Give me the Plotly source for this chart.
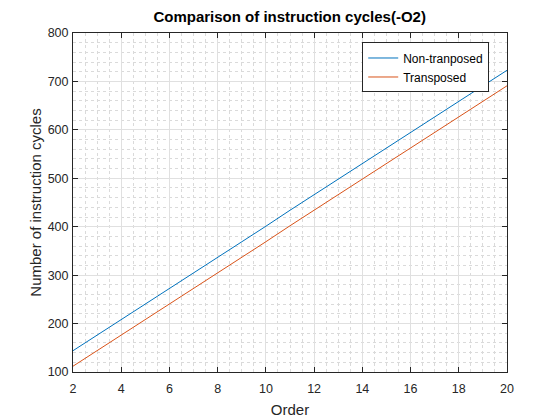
import plotly.graph_objects as go

# order of the filter and measured cycle counts (-O2)
order = list(range(2, 21))
non_transposed = [144, 176, 208, 240, 273, 305, 337, 369, 401, 434,
                  466, 498, 530, 562, 595, 627, 659, 691, 723]
transposed = [112, 144, 176, 208, 241, 273, 305, 337, 369, 402,
              434, 466, 498, 530, 563, 595, 627, 659, 691]

x_ticks = [2, 4, 6, 8, 10, 12, 14, 16, 18, 20]
y_ticks = [100, 200, 300, 400, 500, 600, 700, 800]

fig = go.Figure()
fig.add_trace(go.Scatter(x=order, y=non_transposed, mode='lines', name='Non-tranposed',
                         line=dict(color='#0072BD', width=1)))
fig.add_trace(go.Scatter(x=order, y=transposed, mode='lines', name='Transposed',
                         line=dict(color='#D95319', width=1)))

axis_common = dict(
    showline=True, linecolor='#262626', linewidth=1, mirror='ticks',
    ticks='inside', ticklen=5, tickcolor='#262626',
    showgrid=True, gridcolor='#e0e0e0', gridwidth=1,
    zeroline=False, automargin=False,
    tickfont=dict(family='Liberation Sans, Arial', size=12.5, color='#262626'),
)

# page body has an 8px margin, so shift the plot area up/left to compensate
fig.update_layout(
    width=560, height=420,
    margin=dict(l=65, r=61, t=25, b=56),
    paper_bgcolor='white', plot_bgcolor='white',
    font=dict(family='Liberation Sans, Arial', color='#262626'),
    title=dict(text='<b>Comparison of instruction cycles(-O2)</b>', x=0.503, xref='container',
               xanchor='center', y=0.979, yref='container', yanchor='middle',
               font=dict(size=15, color='black')),
    legend=dict(x=0.959, y=0.972, xanchor='right', yanchor='top',
                bordercolor='#262626', borderwidth=1, bgcolor='white',
                font=dict(size=12, color='black'), tracegroupgap=0),
    showlegend=True,
)
fig.update_xaxes(range=[2, 20], tickvals=x_ticks, ticklabelstandoff=5, **axis_common,
                 title=dict(text='Order', font=dict(size=15), standoff=9),
                 minor=dict(dtick=0.5, showgrid=True, griddash='dot', gridcolor='#dadada',
                            ticks=''))
fig.update_yaxes(range=[100, 800], tickvals=y_ticks, ticklabelstandoff=1, **axis_common,
                 title=dict(text='Number of instruction cycles', font=dict(size=15), standoff=2),
                 minor=dict(dtick=20, showgrid=True, griddash='dot', gridcolor='#dadada',
                            ticks=''))

fig.write_html("out.html")
